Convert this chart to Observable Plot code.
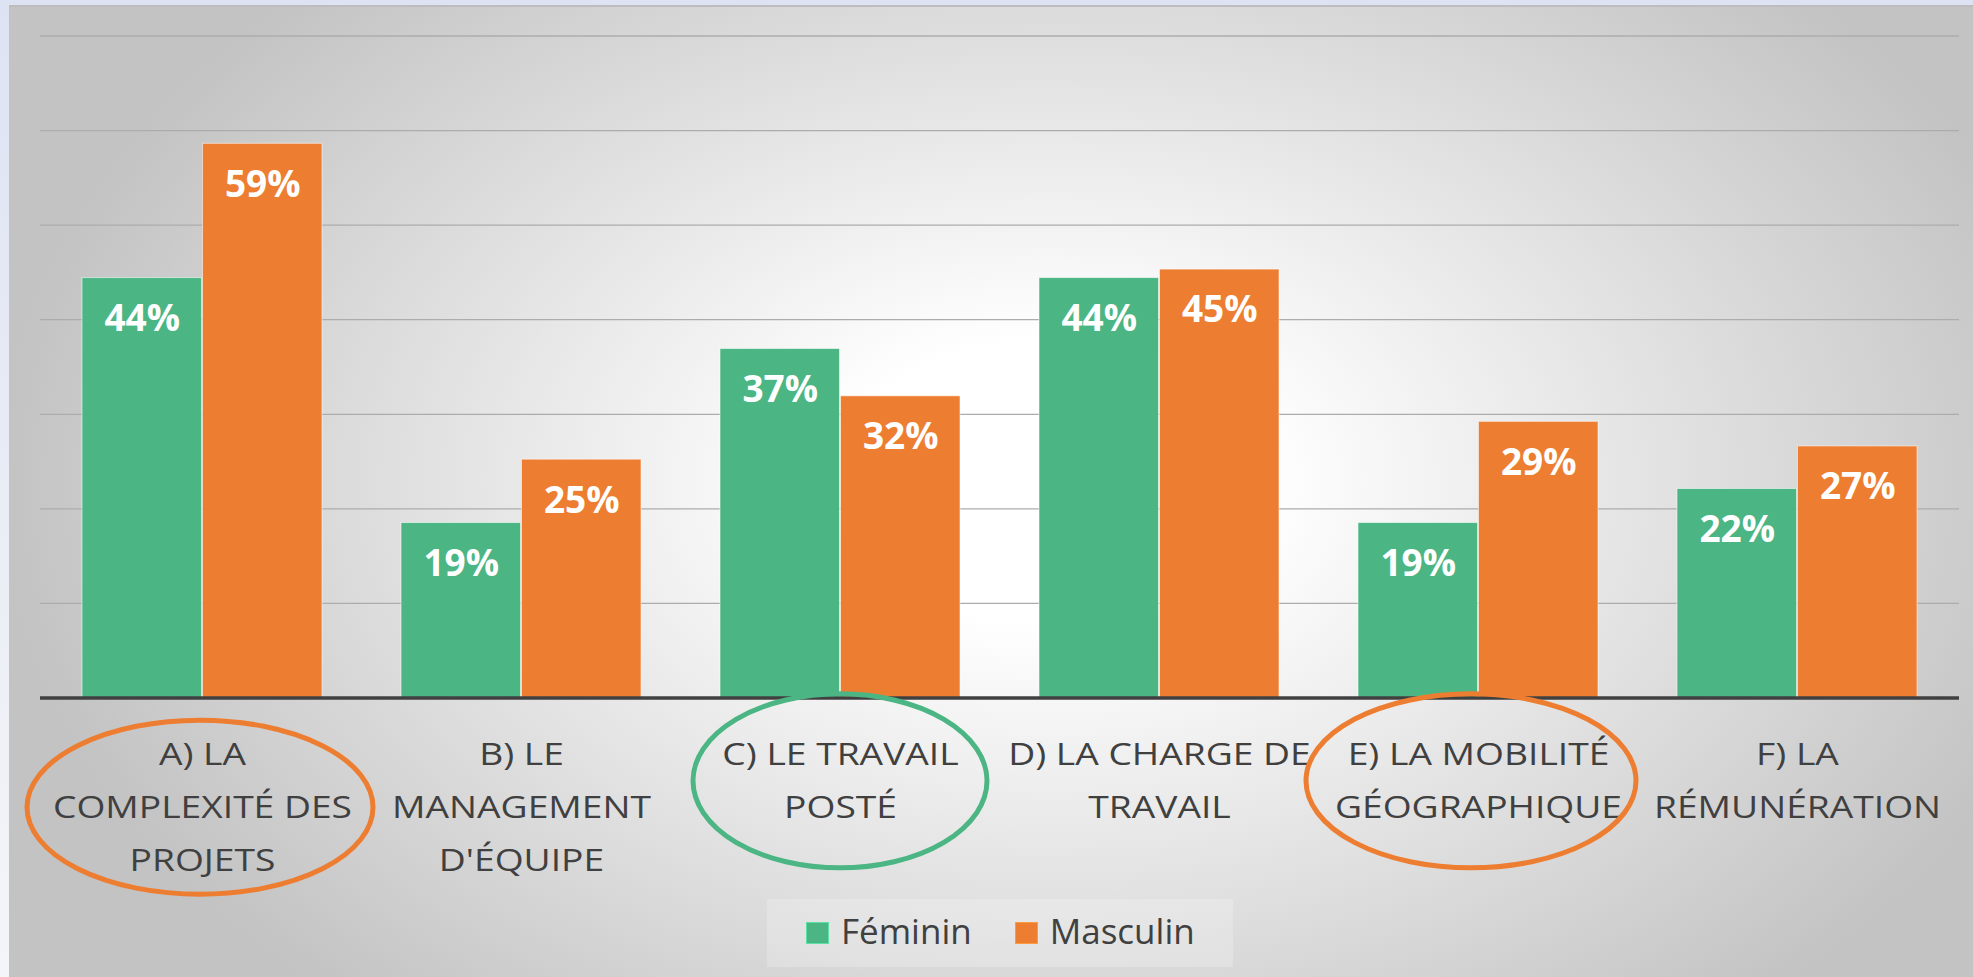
<!DOCTYPE html>
<html>
<head>
<meta charset="utf-8">
<script src="https://cdn.jsdelivr.net/npm/d3@7"></script>
<script src="https://cdn.jsdelivr.net/npm/@observablehq/plot@0.6"></script>
<style>
  html, body { margin: 0; padding: 0; width: 1973px; height: 977px; overflow: hidden;
    background: linear-gradient(to bottom, #dde3f3 0%, #eceef6 60%, #f4f5f8 100%); }
  #frame { position: absolute; left: 9px; top: 5px; width: 1964px; height: 972px; box-sizing: border-box;
    border-top: 2px solid #bdbdbd;
    background: radial-gradient(ellipse 1050px 700px at 1041px 475px, #ffffff 0%, #ffffff 20%, #c3c3c3 100%); }
  #plot { position: absolute; left: 0; top: 0; }
  #legend { position: absolute; left: 767px; top: 899px; width: 466px; height: 68px;
    background: rgba(255,255,255,0.22); }
  #legend .sw { position: absolute; top: 23px; width: 23px; height: 22px; box-sizing: border-box; }
  #legend .lab { position: absolute; top: 14px; font-family: "Open Sans"; font-size: 35px; line-height: 35px; color: #404040; white-space: nowrap; }
</style>
</head>
<body>
<div id="frame"></div>
<div id="plot"></div>
<div id="legend"></div>
<script>
// ---- data ----
const categories = [
  "A) LA\nCOMPLEXITÉ DES\nPROJETS",
  "B) LE\nMANAGEMENT\nD'ÉQUIPE",
  "C) LE TRAVAIL\nPOSTÉ",
  "D) LA CHARGE DE\nTRAVAIL",
  "E) LA MOBILITÉ\nGÉOGRAPHIQUE",
  "F) LA\nRÉMUNÉRATION"
];
const series = ["Féminin", "Masculin"];
const feminin  = [44.4, 18.5, 36.9, 44.4, 18.5, 22.1];
const masculin = [58.6, 25.2, 31.9, 45.3, 29.2, 26.6];
const gridTicks = [10, 20, 30, 40, 50, 60, 70];
const highlighted = [categories[0], categories[2], categories[4]];

// ---- styles ----
const seriesColors = ["#4bb584", "#ed7d31"];
const highlightColors = ["#ed7d31", "#4bb584", "#ed7d31"];

const rows = categories.flatMap((c, i) => [
  {cat: c, series: series[0], value: feminin[i]},
  {cat: c, series: series[1], value: masculin[i]}
]);
const fem = rows.filter(d => d.series === series[0]);
const mas = rows.filter(d => d.series === series[1]);

const W = 1973, H = 900, ML = 40, MR = 14, MT = 35.5, MB = H - 697.5;
const PI = 0.247, PO = 0.122;
const step = (W - ML - MR) / (categories.length - PI + 2 * PO);
const bw = step * (1 - PI);
const half = bw / 2;

const FS = 31, LH = 1.7, TP = 30;
const ellipseRx = [173, 147, 165];
const ellipseDx = [-2, 0, -7];

function ellipses(index, scales, values, dims) {
  const x = scales.x;
  const band = typeof x.bandwidth === "function" ? x.bandwidth() : bw;
  const base = dims.height - dims.marginBottom;
  const g = d3.create("svg:g").attr("aria-label", "highlights");
  highlighted.forEach((c, k) => {
    const n = c.split("\n").length;
    const capTop = base + 46.5;
    const lastBase = base + 67.5 + (n - 1) * FS * LH;
    const cy = (capTop + lastBase) / 2;
    g.append("ellipse")
      .attr("cx", x(c) + band / 2 + ellipseDx[k])
      .attr("cy", cy)
      .attr("rx", ellipseRx[k])
      .attr("ry", 87)
      .attr("fill", "none")
      .attr("stroke", highlightColors[k])
      .attr("stroke-width", 5);
  });
  return g.node();
}

const chart = Plot.plot({
  width: W, height: H,
  marginLeft: ML, marginRight: MR, marginTop: MT, marginBottom: MB,
  style: {background: "transparent", overflow: "visible", fontFamily: "Open Sans", color: "#404040"},
  x: {domain: categories, paddingInner: PI, paddingOuter: PO, align: 0.5, label: null},
  y: {domain: [0, 70], axis: null},
  marks: [
    Plot.ruleY(gridTicks, {stroke: "#acacac", strokeWidth: 1.3}),
    Plot.barY(fem, {x: "cat", y: "value", fill: seriesColors[0], insetRight: half,
      stroke: "#ffffff", strokeOpacity: 0.55, strokeWidth: 1}),
    Plot.barY(mas, {x: "cat", y: "value", fill: seriesColors[1], insetLeft: half,
      stroke: "#ffffff", strokeOpacity: 0.55, strokeWidth: 1}),
    Plot.text(fem, {x: "cat", y: "value", text: d => `${Math.round(d.value)}%`, dx: -half / 2, dy: 41,
      fill: "white", fontSize: 37, fontWeight: 700, fontFamily: "Open Sans"}),
    Plot.text(mas, {x: "cat", y: "value", text: d => `${Math.round(d.value)}%`, dx: half / 2, dy: 41,
      fill: "white", fontSize: 37, fontWeight: 700, fontFamily: "Open Sans"}),
    Plot.ruleY([0], {stroke: "#404040", strokeWidth: 3.5}),
    Plot.axisX({tickSize: 0, tickPadding: TP, fontSize: FS, lineHeight: LH, label: null,
      fontFamily: "Open Sans", fill: "#404040"}),
    ellipses
  ]
});
// the reference's category labels are horizontally widened: stretch the axis text in place
d3.select(chart).selectAll('g[aria-label="x-axis tick label"] text')
  .attr("transform", function () { return (this.getAttribute("transform") || "") + " scale(1.2,1)"; });
document.getElementById("plot").appendChild(chart);

// ---- legend ----
const legend = d3.select("#legend");
let lx = 39;
series.forEach((s, i) => {
  legend.append("div").attr("class", "sw")
    .style("left", lx + "px")
    .style("background", seriesColors[i])
    .style("border", "1.5px solid " + d3.color(seriesColors[i]).brighter(0.6));
  const lab = legend.append("div").attr("class", "lab").style("left", (lx + 35) + "px").text(s);
  lx = lx + 35 + lab.node().getBoundingClientRect().width + 43;
});
</script>
</body>
</html>
